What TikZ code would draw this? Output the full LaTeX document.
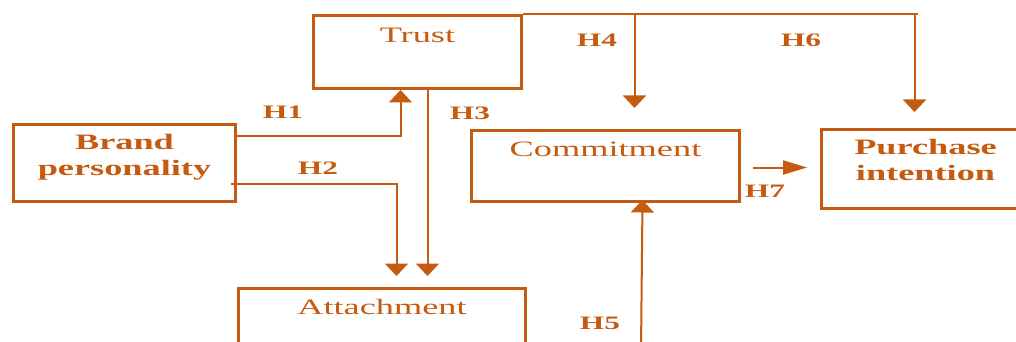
\documentclass[tikz,border=0pt]{standalone}
\usepackage{fontspec}
\setmainfont[FakeStretch=1.65]{Liberation Serif}
\usetikzlibrary{arrows.meta,calc}
\definecolor{brand}{HTML}{C55A11}
\begin{document}
\begin{tikzpicture}[x=1pt,y=-1pt,
  box/.style={draw=brand, line width=3pt, inner sep=0pt, anchor=north west, text=brand,
    font=\fontsize{22}{26}\selectfont},
  boldbox/.style={box, font=\fontsize{22}{26}\selectfont\bfseries, align=center},
  lab/.style={inner sep=0pt, text=brand, font=\fontsize{19}{22}\selectfont\bfseries},
  conn/.style={draw=brand, line width=2pt, -{Triangle[width=23pt,length=12.5pt]}},
  connh/.style={draw=brand, line width=2pt, -{Triangle[width=14pt,length=24pt]}},
  plain/.style={draw=brand, line width=2pt}]
\useasboundingbox (0,0) rectangle (1016,342);
% boxes
\node[box, minimum width=208pt, text height=27pt, text depth=46pt] (trust) at (312,14) {Trust};
\node[boldbox, text width=222pt, text height=25pt, text depth=52pt] (brand) at (12,123) {Brand\\personality};
\node[box, minimum width=268pt, text height=26pt, text depth=45pt] (commit) at (470,129) {Commitment};
\node[boldbox, text width=208pt, text height=25pt, text depth=54pt] (purchase) at (820,128) {Purchase\\intention};
\node[box, minimum width=287pt, text height=26pt, text depth=60pt] (attach) at (237,287) {Attachment};
\coordinate (h5start) at (641,350);
% connectors
\draw[conn] ($(brand.east)+(0,-27.5)$) -| ($(trust.south)+(-17,0)$);
\draw[conn] ($(brand.east)+(-6,20.5)$) -| ($(attach.north)+(14.5,-11)$);
\draw[conn] ($(trust.south)+(10,0)$) -- ($(attach.north)+(45.5,-11)$);
\draw[plain] (trust.north east) -- ($(purchase.north)+(-8,-114)$);
\draw[conn] ($(purchase.north)+(-11,-114)$) -- ($(purchase.north)+(-11,-16)$);
\draw[conn] ($(commit.north)+(29,-115)$) -- ($(commit.north)+(29,-21)$);
\draw[conn] (h5start) -- ($(commit.south)+(37,-3)$);
\draw[connh] ($(commit.east)+(12,1.5)$) -- ($(purchase.west |- commit.east)+(-13,1.5)$);
% labels
\node[lab] (h1) at (283,112) {H1};
\node[lab] (h2) at (318,168) {H2};
\node[lab] (h3) at (470,113) {H3};
\node[lab] (h4) at (597,40) {H4};
\node[lab] (h6) at (801,40) {H6};
\node[lab] (h7) at (765,191) {H7};
\node[lab] (h5) at (600,323) {H5};
\end{tikzpicture}
\end{document}
